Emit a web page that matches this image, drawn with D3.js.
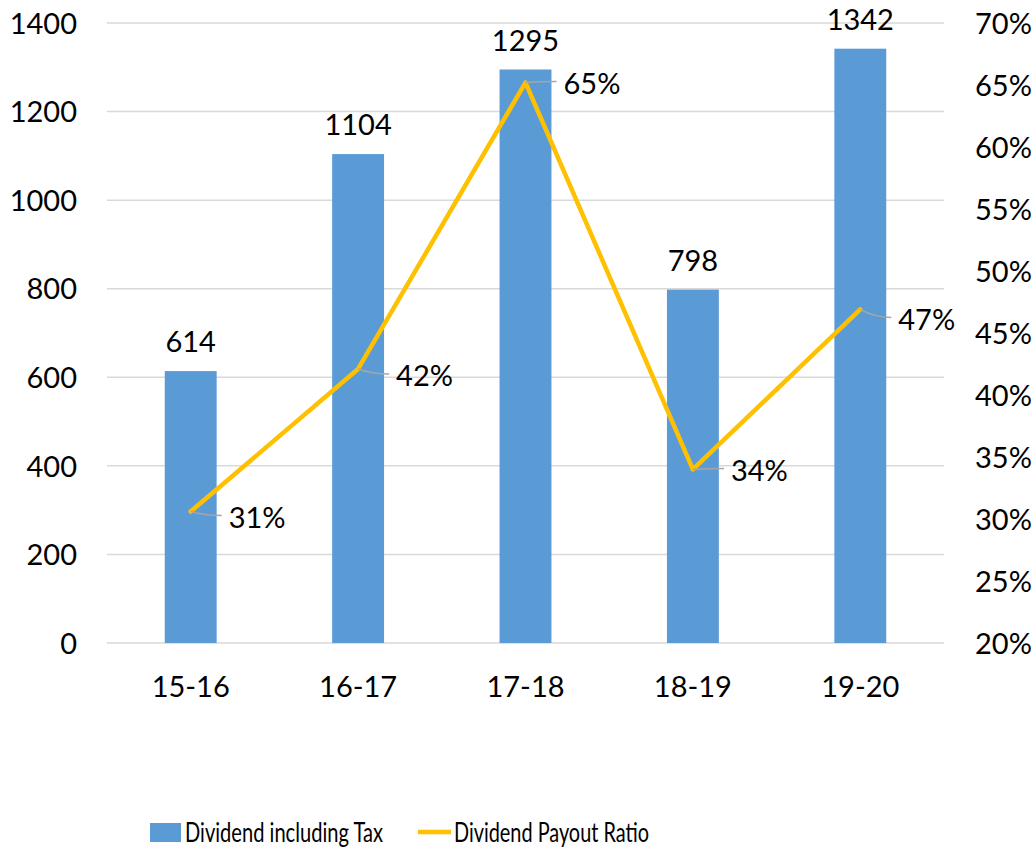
<!DOCTYPE html>
<html>
<head>
<meta charset="utf-8">
<script src="https://cdn.jsdelivr.net/npm/d3@7"></script>
<style>
  html, body { margin: 0; padding: 0; background: #fff; }
  svg { display: block; }
  text { font-family: Lato, "Open Sans", sans-serif; fill: #000; }
</style>
</head>
<body>
<svg id="chart" width="1036" height="849"></svg>
<script>
// ---- data ----
const categories = ["15-16", "16-17", "17-18", "18-19", "19-20"];
const dividendValues = [614, 1104, 1295, 798, 1342];
const payoutRatio = [30.6, 42.1, 65.2, 34.0, 46.9]; // percent
const payoutLabels = ["31%", "42%", "65%", "34%", "47%"];
const leftTicks = [0, 200, 400, 600, 800, 1000, 1200, 1400];
const rightTicks = [20, 25, 30, 35, 40, 45, 50, 55, 60, 65, 70];
const seriesNames = ["Dividend including Tax", "Dividend Payout Ratio"];

// ---- layout (not data) ----
const labelDy = [6, 7, 1, 1, 10];
const barColor = "#5B9BD5";
const lineColor = "#FFC000";
const gridColor = "#D9D9D9";
const fs = 29;

const svg = d3.select("#chart");
const plot = { left: 107, right: 944, top: 23, bottom: 643 };

const x = d3.scaleBand().domain(categories)
  .range([plot.left, plot.right]).paddingInner(0.69).paddingOuter(0.345);
const yL = d3.scaleLinear().domain([0, 1400]).range([plot.bottom, plot.top]);
const yR = d3.scaleLinear().domain([20, 70]).range([plot.bottom, plot.top]);

// gridlines
svg.append("g").selectAll("line").data(leftTicks).join("line")
  .attr("x1", plot.left).attr("x2", plot.right)
  .attr("y1", d => yL(d)).attr("y2", d => yL(d))
  .attr("stroke", gridColor).attr("stroke-width", 1.5);

// left axis labels
const leftAxis = d3.axisLeft(yL).tickValues(leftTicks).tickSize(0).tickPadding(0)
  .tickFormat(d3.format("d"));
const gL = svg.append("g").attr("transform", "translate(77,0)").call(leftAxis);
gL.select(".domain").remove();
gL.selectAll("text").attr("font-size", fs).attr("font-family", "Lato, sans-serif")
  .attr("fill", "#000").attr("dy", "0.35em");

// right axis labels
const rightAxis = d3.axisRight(yR).tickValues(rightTicks).tickSize(0).tickPadding(0)
  .tickFormat(d => d + "%");
const gR = svg.append("g").attr("transform", "translate(975,0)").call(rightAxis);
gR.select(".domain").remove();
gR.selectAll("text").attr("font-size", fs).attr("font-family", "Lato, sans-serif")
  .attr("fill", "#000").attr("dy", "0.35em");

// bottom axis labels
const bottomAxis = d3.axisBottom(x).tickSize(0).tickPadding(0);
const gB = svg.append("g").attr("transform", `translate(0,${plot.bottom})`).call(bottomAxis);
gB.select(".domain").remove();
gB.selectAll("text").attr("font-size", fs).attr("font-family", "Lato, sans-serif")
  .attr("fill", "#000").attr("dy", null).attr("y", 54);

// bars
svg.append("g").selectAll("rect").data(dividendValues).join("rect")
  .attr("x", (d, i) => x(categories[i]))
  .attr("width", x.bandwidth())
  .attr("y", d => yL(d))
  .attr("height", d => yL(0) - yL(d))
  .attr("fill", barColor);

// bar value labels
svg.append("g").selectAll("text").data(dividendValues).join("text")
  .attr("x", (d, i) => x(categories[i]) + x.bandwidth() / 2)
  .attr("y", d => yL(d) - 19)
  .attr("text-anchor", "middle")
  .attr("font-size", fs)
  .text(d => d);

// line
const cx = i => x(categories[i]) + x.bandwidth() / 2;
const line = d3.line().x((d, i) => cx(i)).y(d => yR(d));
svg.append("path").datum(payoutRatio)
  .attr("d", line).attr("fill", "none")
  .attr("stroke", lineColor).attr("stroke-width", 4.5)
  .attr("stroke-linejoin", "round").attr("stroke-linecap", "round");

// leader lines
svg.append("g").selectAll("path").data(payoutRatio).join("path")
  .attr("d", (d, i) => {
    const px = cx(i), py = yR(d), ly = py + labelDy[i] - 2;
    return `M${px},${py} Q${px + 14},${ly} ${px + 31},${ly}`;
  })
  .attr("fill", "none").attr("stroke", "#A6A6A6").attr("stroke-width", 1.5);

// ratio labels
svg.append("g").selectAll("text").data(payoutRatio).join("text")
  .attr("x", (d, i) => cx(i) + 38)
  .attr("y", (d, i) => yR(d) + labelDy[i])
  .attr("dy", "0.35em")
  .attr("font-size", fs)
  .text((d, i) => payoutLabels[i]);

// legend
const lg = svg.append("g");
lg.append("rect").attr("x", 150).attr("y", 823).attr("width", 31).attr("height", 19).attr("fill", barColor);
lg.append("text").attr("x", 185).attr("y", 842).attr("font-size", 27)
  .attr("textLength", 198).attr("lengthAdjust", "spacingAndGlyphs").text(seriesNames[0]);
lg.append("line").attr("x1", 418).attr("x2", 451).attr("y1", 832).attr("y2", 832)
  .attr("stroke", lineColor).attr("stroke-width", 4.5);
lg.append("text").attr("x", 454).attr("y", 842).attr("font-size", 27)
  .attr("textLength", 195).attr("lengthAdjust", "spacingAndGlyphs").text(seriesNames[1]);
</script>
</body>
</html>
